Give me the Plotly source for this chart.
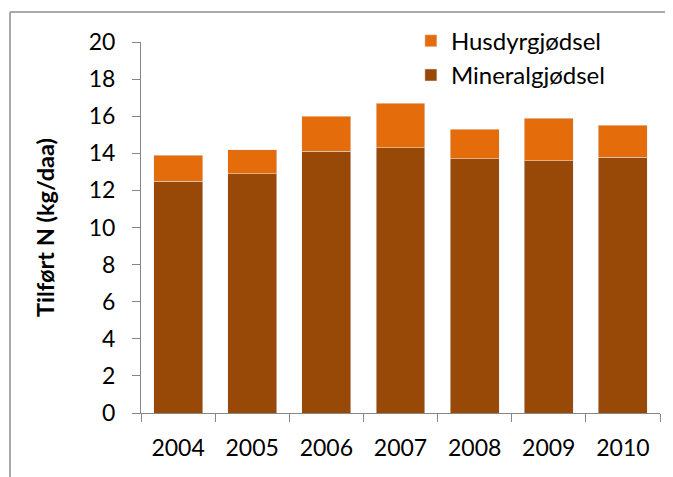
import plotly.graph_objects as go

years = ['2004', '2005', '2006', '2007', '2008', '2009', '2010']
mineral = [12.5, 12.9, 14.1, 14.3, 13.7, 13.6, 13.8]
husdyr = [1.4, 1.3, 1.9, 2.4, 1.6, 2.3, 1.7]

fig = go.Figure()

fig.add_trace(go.Bar(
  x = years,
  y = mineral,
  name = 'Mineralgjødsel',
  marker = dict(color = '#984807')
))

fig.add_trace(go.Bar(
  x = years,
  y = husdyr,
  name = 'Husdyrgjødsel',
  marker = dict(color = '#E46C0A')
))

# chart frame: only top and left edges are inside the picture
frame = dict(xref = 'paper', yref = 'paper', type = 'line',
             line = dict(color = '#8c8c8c', width = 1.5))

fig.update_layout(
  barmode = 'stack',
  bargap = 0.34,
  width = 673,
  height = 477,
  margin = dict(l=133, r=21, t=33, b=72),
  plot_bgcolor = '#ffffff',
  paper_bgcolor = '#ffffff',
  font = dict(family = 'Lato, Open Sans, sans-serif', size = 23, color = '#000000'),
  legend = dict(
    x = 0.52, y = 1.06, xanchor = 'left', yanchor = 'top',
    traceorder = 'reversed',
    font = dict(size = 24),
    itemwidth = 30,
    tracegroupgap = 0,
    bgcolor = 'rgba(0,0,0,0)'
  ),
  shapes = [
    dict(frame, x0 = -0.2524, x1 = 1.1, y0 = 1.0806, y1 = 1.0806),
    dict(frame, x0 = -0.2524, x1 = -0.2524, y0 = -0.3, y1 = 1.0806),
  ]
)

fig.update_yaxes(
  range = [0, 20],
  dtick = 2,
  showgrid = False,
  zeroline = False,
  showline = True,
  linecolor = '#868686',
  linewidth = 1,
  ticks = 'outside',
  ticklen = 8,
  tickcolor = '#868686',
  ticklabelstandoff = 12,
  title = dict(text = '<b>Tilført N (kg/daa)</b>', standoff = 27, font = dict(size = 23.5))
)

fig.update_xaxes(
  showgrid = False,
  showline = True,
  linecolor = '#868686',
  linewidth = 1,
  ticks = 'outside',
  tickson = 'boundaries',
  ticklen = 8,
  tickcolor = '#868686',
  ticklabelstandoff = 14
)

fig.write_html('out.html')
